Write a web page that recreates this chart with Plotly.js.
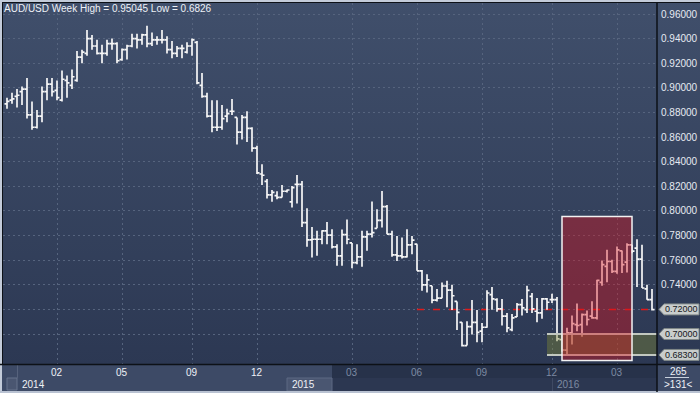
<!DOCTYPE html>
<html><head><meta charset="utf-8">
<script src="https://cdn.plot.ly/plotly-3.0.1.min.js"></script>
<style>html,body{margin:0;padding:0;background:#3d4a66;}#chart{width:700px;height:393px;}</style>
</head><body><div id="chart"></div>
<script>
// Weekly AUD/USD bars (index 0 = first visible week)
const openP = [.887,.890,.893,.897,.899,.878,.868,.877,.897,.903,.898,.890,.906,.902,.906,.925,.928,.940,.934,.928,
.928,.936,.936,.923,.931,.934,.940,.939,.943,.936,.939,.939,.939,.931,.928,.932,.929,.934,.937,.902,
.893,.877,.868,.868,.877,.881,.876,.864,.876,.867,.851,.830,.8240,.8130,.8125,.8110,.8160,.8073,.8216,.8216,
.7905,.7765,.7770,.7770,.7838,.7803,.7708,.7635,.7808,.7740,.7580,.7627,.7789,.7811,.7859,.7924,.8035,.7811,.7643,.7635,
.7627,.7724,.7730,.7513,.7400,.7392,.7276,.7292,.7390,.7357,.7265,.7095,.6906,.7060,.7095,.7023,.7055,.7320,.7279,.7204,
.7145,.7036,.7139,.7239,.7198,.7306,.7185,.7171,.7285,.7279,.7279,.6955,.6869,.7010,.7077,.7077,.7158,.7145,.7131,.7420,
.7549,.7589,.7509,.7676,.7584,.7725,.7698,.7608,.7366,.7279];
const highP = [.892,.896,.899,.901,.908,.889,.882,.901,.908,.908,.906,.914,.910,.915,.930,.931,.947,.943,.939,.935,
.939,.940,.937,.932,.935,.944,.944,.944,.9505,.945,.942,.947,.942,.938,.934,.935,.937,.940,.938,.912,
.896,.890,.890,.886,.883,.891,.876,.878,.881,.868,.853,.838,.8260,.8170,.8160,.8210,.8175,.8203,.8292,.8243,
.8022,.7870,.7838,.7843,.7911,.7851,.7730,.7850,.7930,.7740,.7730,.7838,.7838,.8076,.8013,.8162,.8049,.7838,.7797,.7784,
.7851,.7797,.7730,.7520,.7486,.7392,.7365,.7419,.7432,.7400,.7265,.7095,.7103,.7276,.7195,.7090,.7355,.7382,.7290,.7285,
.7171,.7163,.7252,.7285,.7393,.7333,.7293,.7293,.7293,.7328,.7301,.6995,.7050,.7150,.7247,.7166,.7190,.7266,.7441,.7598,
.7684,.7603,.7711,.7679,.7738,.7725,.7770,.7725,.7401,.7366];
const lowP = [.883,.887,.884,.886,.875,.866,.867,.872,.890,.893,.890,.889,.892,.899,.905,.920,.926,.931,.927,.920,
.926,.931,.920,.922,.923,.933,.932,.935,.933,.934,.935,.936,.928,.924,.925,.924,.928,.926,.903,.892,
.876,.864,.865,.866,.872,.878,.854,.858,.856,.848,.830,.821,.8100,.8075,.8095,.8110,.8150,.8027,.8060,.7870,
.7708,.7622,.7635,.7730,.7730,.7695,.7554,.7554,.7730,.7535,.7567,.7546,.7676,.7784,.7859,.7865,.7811,.7627,.7594,.7614,
.7622,.7649,.7513,.7351,.7338,.7249,.7265,.7290,.7217,.7195,.7033,.6898,.6906,.6995,.6933,.6934,.7050,.7198,.7180,.7069,
.7015,.7023,.7139,.7150,.7171,.7171,.7096,.7123,.7198,.7252,.6942,.6855,.6826,.6915,.7023,.6977,.7069,.7123,.7118,.7393,
.7420,.7495,.7490,.7495,.7500,.7657,.7382,.7374,.7279,.7190];
const closeP = [.889,.891,.894,.899,.878,.868,.877,.897,.903,.897,.892,.907,.904,.909,.925,.929,.940,.934,.928,.928,
.936,.936,.922,.931,.934,.940,.939,.943,.936,.939,.939,.939,.931,.928,.932,.932,.934,.939,.904,.893,
.877,.868,.868,.875,.879,.881,.864,.876,.867,.851,.831,.829,.8130,.8150,.8110,.8160,.8170,.8190,.8216,.7905,
.7765,.7770,.7770,.7838,.7803,.7708,.7635,.7808,.7770,.7580,.7627,.7789,.7811,.7824,.7924,.8035,.7811,.7643,.7635,.7627,
.7724,.7762,.7513,.7400,.7440,.7276,.7292,.7390,.7357,.7311,.7176,.6906,.7060,.7095,.7014,.7055,.7333,.7285,.7204,.7145,
.7050,.7131,.7239,.7212,.7355,.7204,.7171,.7285,.7258,.7279,.6961,.6870,.7010,.7085,.7069,.7158,.7118,.7131,.7436,.7563,
.7589,.7509,.7684,.7563,.7725,.7673,.7608,.7374,.7279,.7198];

// Axis labels (bar index where each month label / grid line sits)
const monthIdx = [10,23,37,50,69,82,95,109,122];
const monthLbl = ["02","05","09","12","03","06","09","12","03"];
const monthBright = [true,true,true,true,false,false,false,false,false];
const yearLbl = ["2014","2015","2016"];
const yearPx = [20,290,555];
const yearBright = [true,true,false];
const priceTicks = [0.70,0.72,0.74,0.76,0.78,0.80,0.82,0.84,0.86,0.88,0.90,0.92,0.94,0.96];
const tagLevels = [0.72,0.70,0.683];
const titleText = "AUD/USD Week High = 0.95045 Low = 0.6826";

const xIdx = openP.map((_, i) => i);
const W = 654, H = 362;
const px = p => (p - 3) / W;           // pixel x -> paper x
const py = p => 1 - (p - 3) / H;       // pixel y -> paper y
const FONT = "Liberation Sans, Arial, sans-serif";
const FS = 10;

const trace = {
  type: 'ohlc', x: xIdx, open: openP, high: highP, low: lowP, close: closeP,
  increasing: {line: {color: '#f6f6f6', width: 1.7}},
  decreasing: {line: {color: '#f6f6f6', width: 1.7}},
  tickwidth: 0.5, hoverinfo: 'skip', showlegend: false
};

const svg = '<svg xmlns="http://www.w3.org/2000/svg" width="700" height="365" preserveAspectRatio="none"><defs><linearGradient id="g" x1="0" y1="0" x2="0" y2="1"><stop offset="0" stop-color="#404f6b"/><stop offset="1" stop-color="#2c3853"/></linearGradient></defs><rect width="700" height="365" fill="url(#g)"/></svg>';
const bgSrc = 'data:image/svg+xml;charset=utf-8,' + encodeURIComponent(svg);

const shapes = [];
// bottom axis band
shapes.push({type:'rect', xref:'paper', yref:'paper', x0:px(0), x1:px(332), y0:py(392), y1:py(365), fillcolor:'#3d4a66', line:{width:0}, layer:'below'});
shapes.push({type:'rect', xref:'paper', yref:'paper', x0:px(332), x1:px(657), y0:py(392), y1:py(365), fillcolor:'#27324a', line:{width:0}, layer:'below'});
shapes.push({type:'rect', xref:'paper', yref:'paper', x0:px(332), x1:px(657), y0:py(391), y1:py(378), fillcolor:'#2c3751', line:{width:0}, layer:'below'});
shapes.push({type:'rect', xref:'paper', yref:'paper', x0:px(657), x1:px(700), y0:py(392), y1:py(365), fillcolor:'#3d4a66', line:{width:0}, layer:'below'});
shapes.push({type:'rect', xref:'paper', yref:'paper', x0:px(287), x1:px(332), y0:py(391), y1:py(378), fillcolor:'#4a5671', line:{color:'#5d6983', width:1}, layer:'below'});
shapes.push({type:'rect', xref:'paper', yref:'paper', x0:px(7), x1:px(17), y0:py(390), y1:py(378), fillcolor:'#4a5671', line:{color:'#66728c', width:1}, layer:'below'});
shapes.push({type:'line', xref:'paper', yref:'paper', x0:px(17.5), x1:px(17.5), y0:py(378), y1:py(365), line:{color:'#56627c', width:1}, layer:'below'});
shapes.push({type:'line', xref:'paper', yref:'paper', x0:px(552.5), x1:px(552.5), y0:py(391), y1:py(378), line:{color:'#3f4a64', width:1}, layer:'below'});
shapes.push({type:'line', xref:'paper', yref:'paper', x0:px(665), x1:px(689), y0:py(377.5), y1:py(377.5), line:{color:'#c8d0dc', width:1}, layer:'below'});
// red dashed current-price line
shapes.push({type:'line', xref:'x', yref:'y', x0:82, x1:130, y0:tagLevels[0], y1:tagLevels[0], line:{color:'#e01a1a', width:1.5, dash:'7px,9px'}, layer:'between'});
// green zone
shapes.push({type:'rect', xref:'x', yref:'y', x0:108, x1:130, y0:tagLevels[2], y1:tagLevels[1], fillcolor:'rgba(125,133,54,0.42)', line:{width:0}, layer:'above'});
shapes.push({type:'line', xref:'x', yref:'y', x0:108, x1:130, y0:tagLevels[1], y1:tagLevels[1], line:{color:'#c2c8c0', width:2}, layer:'above'});
shapes.push({type:'line', xref:'x', yref:'y', x0:108, x1:130, y0:tagLevels[2], y1:tagLevels[2], line:{color:'#c2c8c0', width:2}, layer:'above'});
// red box
shapes.push({type:'rect', xref:'x', yref:'y', x0:111, x1:125, y0:0.6785, y1:0.7954, fillcolor:'rgba(222,17,28,0.40)', line:{color:'#f2f2f2', width:1.5}, layer:'above'});
// frame
shapes.push({type:'rect', xref:'paper', yref:'paper', x0:px(0), x1:px(700), y0:py(2), y1:py(0), fillcolor:'#c3cbd9', line:{width:0}, layer:'above'});
shapes.push({type:'rect', xref:'paper', yref:'paper', x0:px(0), x1:px(700), y0:py(3), y1:py(2), fillcolor:'#0d1117', line:{width:0}, layer:'above'});
shapes.push({type:'rect', xref:'paper', yref:'paper', x0:px(0), x1:px(2), y0:py(393), y1:py(0), fillcolor:'#c3cbd9', line:{width:0}, layer:'above'});
shapes.push({type:'rect', xref:'paper', yref:'paper', x0:px(2), x1:px(3), y0:py(365), y1:py(2), fillcolor:'#0d1117', line:{width:0}, layer:'above'});
shapes.push({type:'rect', xref:'paper', yref:'paper', x0:px(0), x1:px(700), y0:py(393), y1:py(391), fillcolor:'#b9c2d2', line:{width:0}, layer:'above'});
shapes.push({type:'line', xref:'paper', yref:'paper', x0:px(657), x1:px(657), y0:py(392), y1:py(3), line:{color:'#0d1117', width:1.5}, layer:'above'});
shapes.push({type:'line', xref:'paper', yref:'paper', x0:px(0), x1:px(700), y0:py(364.5), y1:py(364.5), line:{color:'#0d1117', width:1.5}, layer:'above'});
// price tags on the right axis
const hh = 5.5 / 1231;
tagLevels.forEach(v => {
  const a = px(659), b = px(664), c = px(699);
  shapes.push({type:'path', xref:'paper', yref:'y',
    path:`M ${a},${v} L ${b},${v+hh} L ${c},${v+hh} L ${c},${v-hh} L ${b},${v-hh} Z`,
    fillcolor:'#c9cdcc', line:{color:'#7f8787', width:1}, layer:'above'});
});

const annotations = [];
monthIdx.forEach((xi, k) => annotations.push({xref:'x', yref:'paper', x:xi, y:py(372), text:monthLbl[k], showarrow:false,
  xanchor:'center', yanchor:'middle', font:{family:FONT, size:FS, color: monthBright[k] ? '#eef1f6' : '#7d8aa2'}}));
yearLbl.forEach((t, k) => annotations.push({xref:'paper', yref:'paper', x:px(yearPx[k]), y:py(384.5), text:t, showarrow:false,
  xanchor:'left', yanchor:'middle', font:{family:FONT, size:FS, color: yearBright[k] ? '#eef1f6' : '#7d8aa2'}}));
tagLevels.forEach(v => annotations.push({xref:'paper', yref:'y', x:px(681), y:v, text:v.toFixed(5), showarrow:false,
  xanchor:'center', yanchor:'middle', borderpad:0, font:{family:FONT, size:9, color:'#15181c'}}));
annotations.push({xref:'paper', yref:'paper', x:px(678), y:py(371), text:'265', showarrow:false, xanchor:'center', yanchor:'middle', font:{family:FONT, size:FS, color:'#eef1f6'}});
annotations.push({xref:'paper', yref:'paper', x:px(678), y:py(384.5), text:'&gt;131&lt;', showarrow:false, xanchor:'center', yanchor:'middle', font:{family:FONT, size:FS, color:'#eef1f6'}});

const layout = {
  width: 700, height: 393,
  margin: {l:3, r:43, t:3, b:28, pad:0},
  paper_bgcolor: '#3d4a66', plot_bgcolor: 'rgba(0,0,0,0)',
  title: {text: titleText, x: 4/700, xanchor:'left', xref:'container', y: 1 - 8/393, yanchor:'middle', yref:'container',
          font:{family:FONT, size:FS, color:'#eef1f6'}},
  showlegend: false,
  xaxis: {range:[-0.8, 130], tickvals: monthIdx, showticklabels:false, ticks:'', showgrid:true, gridcolor:'#56647e',
          griddash:'2px,3px', gridwidth:1, zeroline:false, showline:false, rangeslider:{visible:false}, fixedrange:true},
  yaxis: {range:[0.67482, 0.96894], side:'right', tickvals: priceTicks,
          ticktext: priceTicks.map(v => (tagLevels.includes(v) ? '' : v.toFixed(5))),
          ticks:'', ticklabelstandoff:3, showgrid:true, gridcolor:'#56647e', griddash:'2px,3px', gridwidth:1,
          zeroline:false, showline:false, tickfont:{family:FONT, size:FS, color:'#e6eaf2'}, fixedrange:true},
  images: [{source: bgSrc, xref:'paper', yref:'paper', x:px(0), y:py(0), sizex: 700/W, sizey: 365/H,
            xanchor:'left', yanchor:'top', sizing:'stretch', layer:'below'}],
  shapes: shapes, annotations: annotations
};
Plotly.newPlot('chart', [trace], layout, {staticPlot:true, displayModeBar:false});
</script></body></html>
